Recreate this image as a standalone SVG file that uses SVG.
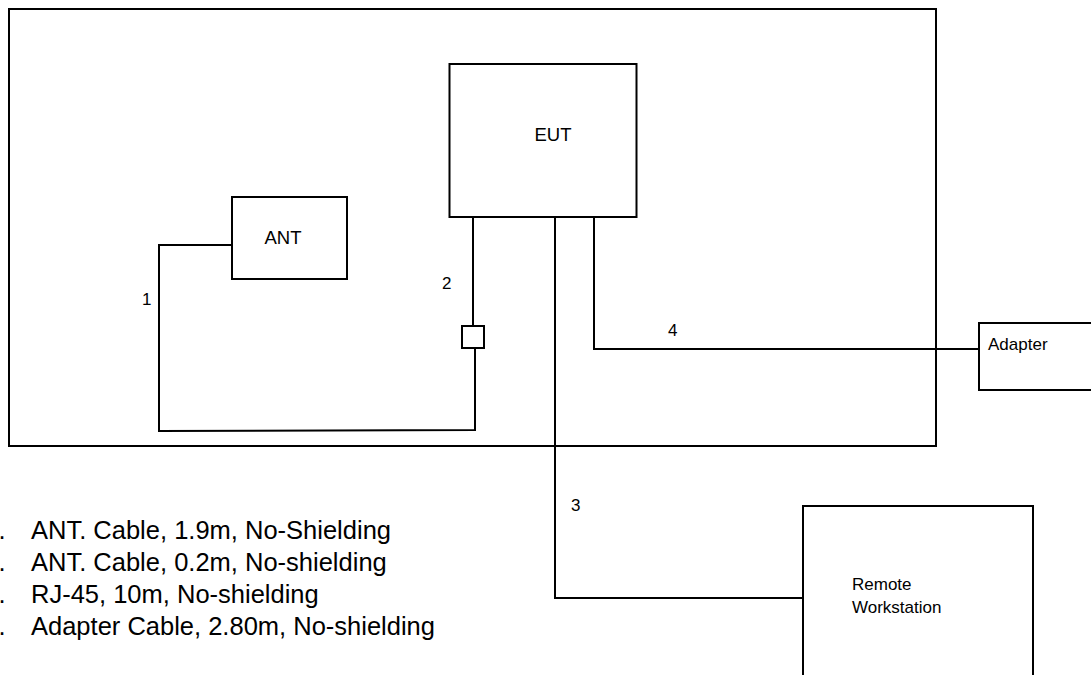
<svg xmlns="http://www.w3.org/2000/svg" width="1091" height="675" viewBox="0 0 1091 675">
<style>
.box{fill:none;stroke:#000;stroke-width:2}
.wire{fill:none;stroke:#000;stroke-width:2}
.t{font-family:"Liberation Sans",Arial,sans-serif;fill:#000}
.lbl{font-size:17px}
.big{font-size:18.5px}
.lst{font-size:25.5px}
</style>
<rect width="1091" height="675" fill="#fff"/>
<g id="frame"><rect class="box" x="9" y="9" width="927" height="437"/></g>
<g id="connectors">
<polyline class="wire" points="473,217 473,326"/>
<rect class="box" x="462" y="326" width="22" height="22"/>
<polyline class="wire" points="475,348 475,430 159,431 159,245 233,245"/>
<polyline class="wire" points="594,217 594,349 979,349"/>
<polyline class="wire" points="555,217 555,598 803,598"/>
<text class="t lbl" x="142" y="305">1</text>
<text class="t lbl" x="442" y="289">2</text>
<text class="t lbl" x="571" y="511">3</text>
<text class="t lbl" x="668" y="336">4</text>
</g>
<g id="eut"><rect class="box" x="449.5" y="64" width="187" height="153"/><text class="t big" x="553" y="141" text-anchor="middle">EUT</text></g>
<g id="ant"><rect class="box" x="232" y="197" width="115" height="82"/><text class="t big" x="283" y="244" text-anchor="middle">ANT</text></g>
<g id="adapter"><rect class="box" x="979" y="323" width="130" height="67"/><text class="t lbl" x="988" y="350">Adapter</text></g>
<g id="remote"><rect class="box" x="803" y="506" width="230" height="200"/><text class="t lbl" x="852" y="590">Remote</text><text class="t lbl" x="852" y="613">Workstation</text></g>
<g id="legend" class="t lst">
<text x="-1.5" y="539">.</text><text x="31" y="539">ANT. Cable, 1.9m, No-Shielding</text>
<text x="-1.5" y="571">.</text><text x="31" y="571">ANT. Cable, 0.2m, No-shielding</text>
<text x="-1.5" y="603">.</text><text x="31" y="603">RJ-45, 10m, No-shielding</text>
<text x="-1.5" y="635">.</text><text x="31" y="635">Adapter Cable, 2.80m, No-shielding</text>
</g>
</svg>
